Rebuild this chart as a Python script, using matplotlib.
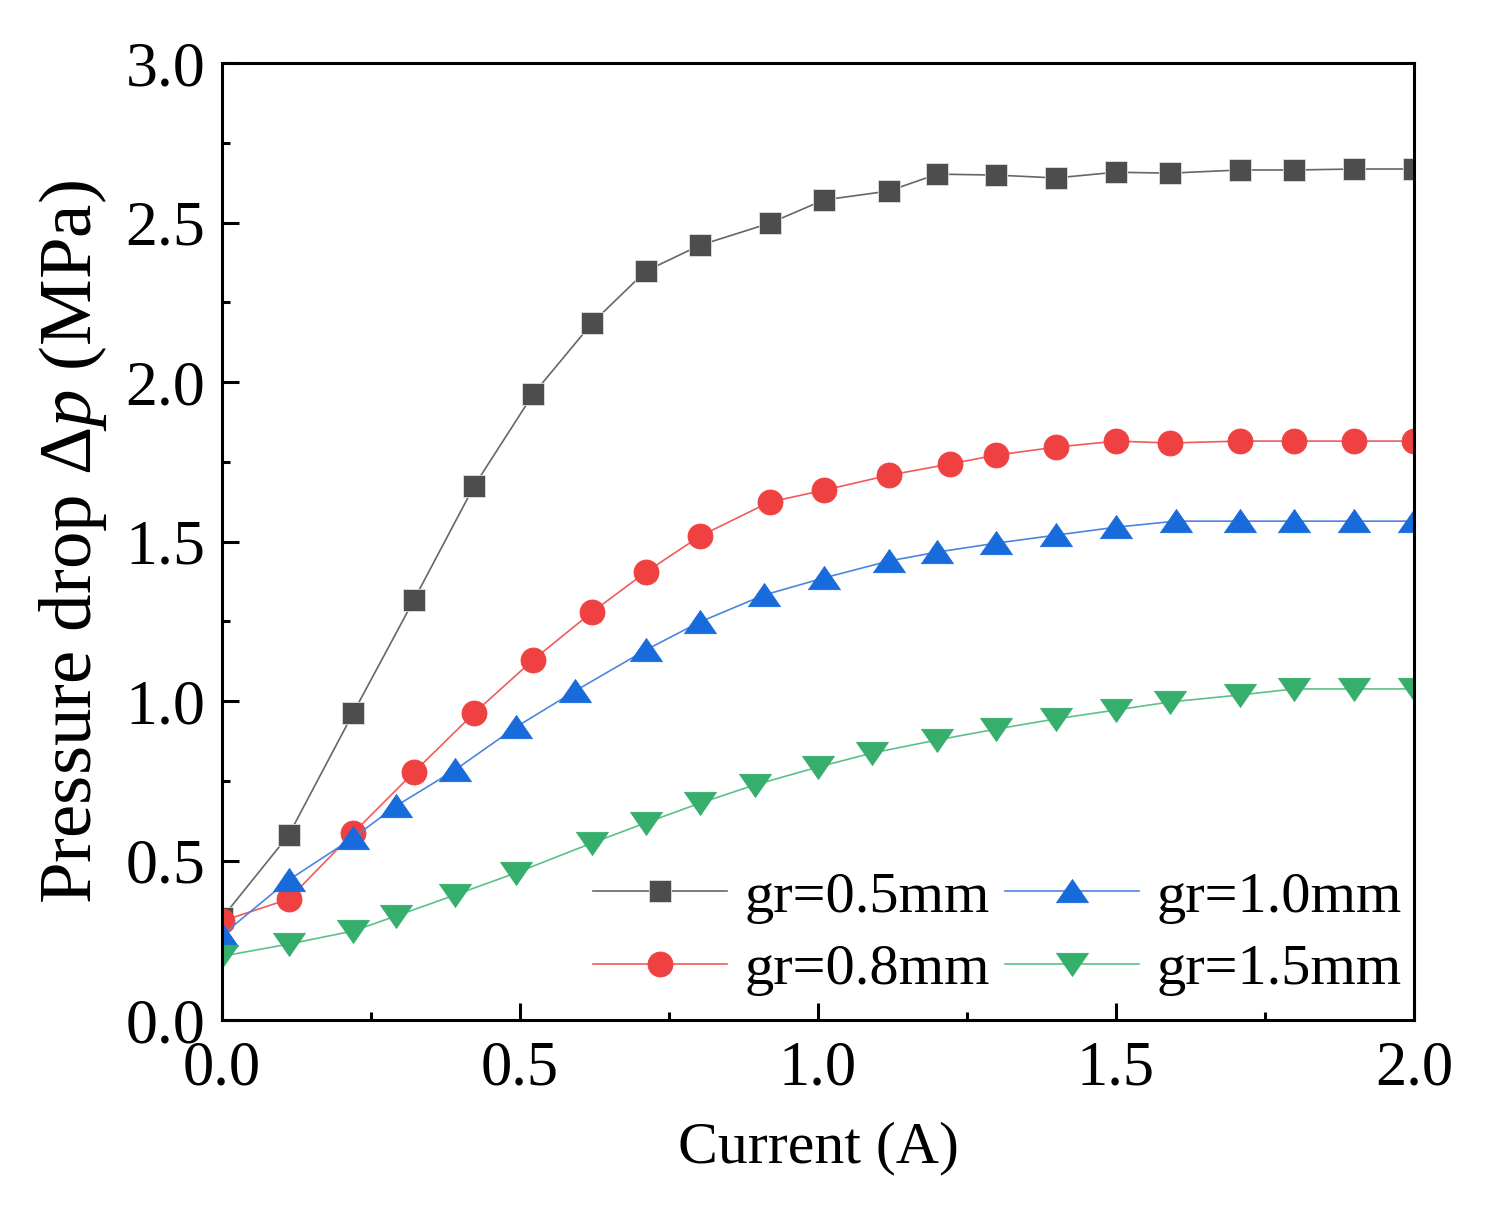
import numpy as np
import matplotlib
matplotlib.use('Agg')
import matplotlib.pyplot as plt
from matplotlib.ticker import MultipleLocator

plt.rcParams['font.family'] = ['Liberation Serif', 'DejaVu Serif']
plt.rcParams['mathtext.fontset'] = 'custom'
plt.rcParams['mathtext.rm'] = 'Liberation Serif'
plt.rcParams['mathtext.it'] = 'Liberation Serif:italic'

# Данные
current_a = [0.0, 0.112, 0.22, 0.322, 0.423, 0.522, 0.621, 0.711, 0.802, 0.919, 1.01,
             1.119, 1.2, 1.299, 1.399, 1.5, 1.59, 1.708, 1.799, 1.9, 2.0]
dp_05 = [0.32, 0.58, 0.962, 1.317, 1.674, 1.962, 2.185, 2.348, 2.429, 2.498, 2.571,
         2.599, 2.652, 2.649, 2.64, 2.658, 2.655, 2.665, 2.665, 2.668, 2.668]

current_b = [0.0, 0.112, 0.22, 0.322, 0.423, 0.522, 0.621, 0.711, 0.802, 0.919, 1.01,
             1.119, 1.221, 1.299, 1.399, 1.5, 1.59, 1.708, 1.799, 1.9, 2.0]
dp_08 = [0.31, 0.379, 0.586, 0.777, 0.962, 1.129, 1.279, 1.404, 1.517, 1.624, 1.661,
         1.708, 1.743, 1.771, 1.796, 1.815, 1.809, 1.815, 1.815, 1.815, 1.815]

current_c = [0.0, 0.112, 0.22, 0.292, 0.391, 0.493, 0.592, 0.711, 0.802, 0.909, 1.01,
             1.119, 1.2, 1.299, 1.399, 1.5, 1.6, 1.708, 1.799, 1.9, 2.0]
dp_10 = [0.266, 0.439, 0.571, 0.671, 0.784, 0.918, 1.031, 1.16, 1.248, 1.332, 1.386,
         1.439, 1.467, 1.495, 1.52, 1.545, 1.564, 1.564, 1.564, 1.564, 1.564]

current_d = [0.0, 0.112, 0.22, 0.292, 0.391, 0.493, 0.621, 0.711, 0.802, 0.894, 1.0,
             1.091, 1.2, 1.299, 1.399, 1.5, 1.59, 1.708, 1.799, 1.9, 2.0]
dp_15 = [0.2, 0.238, 0.279, 0.326, 0.392, 0.461, 0.555, 0.618, 0.68, 0.737, 0.793,
         0.837, 0.878, 0.912, 0.944, 0.972, 0.997, 1.019, 1.038, 1.038, 1.038]

labels = ['gr=0.5mm', 'gr=0.8mm', 'gr=1.0mm', 'gr=1.5mm']

# Сплюснутые треугольники
tri_up = [(-1, -0.7), (1, -0.7), (0, 0.75), (-1, -0.7)]
tri_down = [(-1, 0.7), (1, 0.7), (0, -0.75), (-1, 0.7)]

fig = plt.figure(figsize=(15.05, 12.14), dpi=100)
ax = fig.add_axes([0.1475, 0.1598, 0.792, 0.7882])

ax.plot(current_a, dp_05, color='#666666', lw=1.2, marker='s', ms=16.5,
        mfc='#4D4D4D', mec='#e0e0e0', mew=0.6, label=labels[0])
ax.plot(current_b, dp_08, color='#F25A5A', lw=1.2, marker='o', ms=18,
        mfc='#EF4141', mec='#EF4141', mew=0.6, label=labels[1])
ax.plot(current_c, dp_10, color='#4A86E0', lw=1.2, marker=tri_up, ms=23,
        mfc='#176BDB', mec='#176BDB', mew=0.6, label=labels[2])
ax.plot(current_d, dp_15, color='#5CC08A', lw=1.2, marker=tri_down, ms=23,
        mfc='#36AE6C', mec='#36AE6C', mew=0.6, label=labels[3])

ax.set_xlim(0, 2.0)
ax.set_ylim(0, 3.0)
ax.xaxis.set_major_locator(MultipleLocator(0.5))
ax.xaxis.set_minor_locator(MultipleLocator(0.25))
ax.yaxis.set_major_locator(MultipleLocator(0.5))
ax.yaxis.set_minor_locator(MultipleLocator(0.25))
ax.xaxis.set_major_formatter(matplotlib.ticker.FormatStrFormatter('%.1f'))
ax.yaxis.set_major_formatter(matplotlib.ticker.FormatStrFormatter('%.1f'))

for s in ax.spines.values():
    s.set_linewidth(2.2)
ax.tick_params(which='both', direction='in', top=False, right=False, width=2.2)
ax.tick_params(which='major', length=12)
ax.tick_params(which='minor', length=6)
ax.tick_params(axis='x', which='major', pad=15, labelsize=45)
ax.tick_params(axis='y', which='major', pad=12, labelsize=46)

ax.set_xlabel('Current (A)', fontsize=43, labelpad=16)
ax.set_ylabel(r'Pressure drop $\Delta p$ (MPa)', fontsize=54, labelpad=12)

ax.legend(ncol=2, loc='lower right', bbox_to_anchor=(1.024, -0.018), frameon=False,
          fontsize=42, handlelength=2.3, columnspacing=0.25, handletextpad=0.3,
          labelspacing=0.34, borderpad=0.2)

fig.savefig('out.png', dpi=100)
